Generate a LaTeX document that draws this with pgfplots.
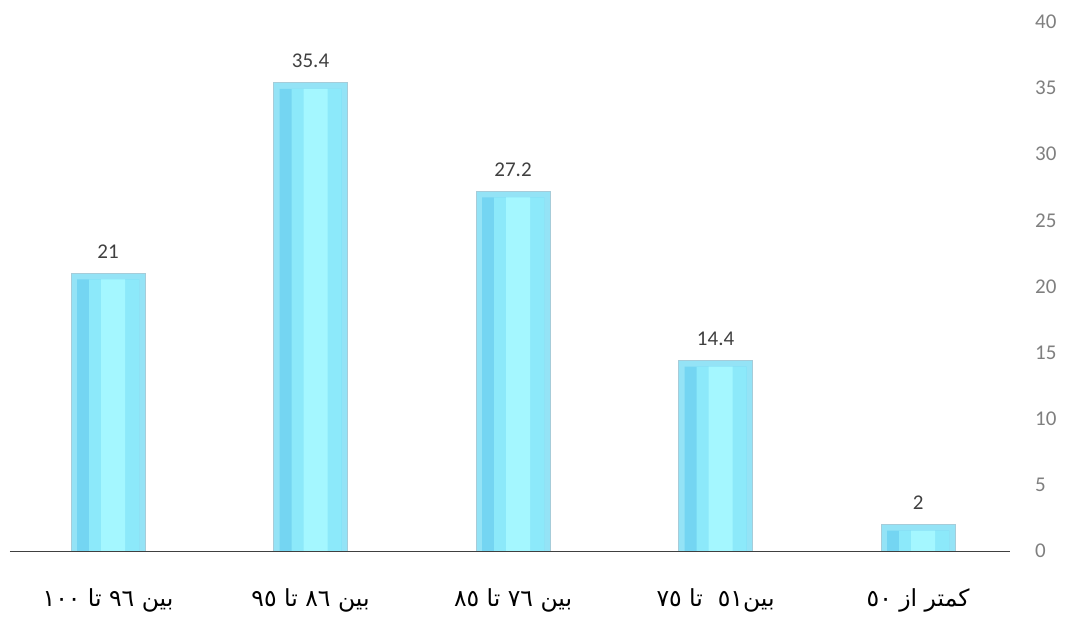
\documentclass[border=0pt]{standalone}
\usepackage{pgfplots}
\usepackage{pgfplotstable}
\pgfplotsset{compat=1.18}
\usepackage{fontspec}
\setmainfont{Carlito}
\newfontfamily\arabicfont[Script=Arabic]{DejaVu Sans}
\TeXXeTstate=1
\definecolor{tickgray}{HTML}{7F7F7F}
\definecolor{labelgray}{HTML}{404040}
\definecolor{axisgray}{HTML}{404040}
\definecolor{baredge}{HTML}{A6CCD9}
\definecolor{barframe}{HTML}{94E3F6}
\definecolor{barinner}{HTML}{74D5F2}
\definecolor{barmain}{HTML}{8CE9FA}
\definecolor{barlight}{HTML}{A4F7FF}
\pgfplotstableread{
x y
0 21
1 35.4
2 27.2
3 14.4
4 2
}\data
\begin{document}
\begin{tikzpicture}
\useasboundingbox (-10bp,-68bp) rectangle (1057bp,551bp);
\begin{axis}[
  at={(0,0)}, anchor=south west,
  scale only axis, width=1000bp, height=529bp,
  ymin=0, ymax=40, xmin=-0.484, xmax=4.454,
  axis x line*=bottom, axis y line*=right,
  y axis line style={draw=none},
  x axis line style={draw=axisgray, line width=0.8bp, -},
  ytick={0,5,...,40}, xtick={0,1,2,3,4},
  xticklabels={{\arabicfont\beginR بین ٩٦ تا ١٠٠\endR},
               {\arabicfont\beginR بین ٨٦ تا ٩٥\endR},
               {\arabicfont\beginR بین ٧٦ تا ٨٥\endR},
               {\arabicfont\beginR بین٥١\ \ تا ٧٥\endR},
               {\arabicfont\beginR کمتر از ٥٠\endR}},
  major tick length=0pt,
  tick style={draw=none},
  yticklabel style={anchor=west, inner sep=0pt, xshift=25bp, font=\fontsize{21bp}{24bp}\selectfont, text=tickgray},
  xticklabel style={anchor=center, yshift=-49bp, inner sep=0pt, font=\fontsize{23.5bp}{27bp}\selectfont, text=black},
  /pgf/number format/assume math mode=true,
  every node near coord/.append style={anchor=center, yshift=22bp, font=\fontsize{21bp}{24bp}\selectfont, text=labelgray},
  clip=true,
  axis on top,
]
\addplot[ybar, bar width=74bp, bar shift=0pt, fill=barframe, draw=baredge, line width=0.8bp,
  nodes near coords] table[x=x, y=y] {\data};
\addplot[ybar, bar width=62bp, bar shift=0pt, fill=barinner, draw=none, yshift=-6bp]
  table[x=x, y=y] {\data};
\addplot[ybar, bar width=50bp, bar shift=6bp, fill=barmain, draw=none, yshift=-6bp]
  table[x=x, y=y] {\data};
\addplot[ybar, bar width=24bp, bar shift=5bp, fill=barlight, draw=none, yshift=-6bp]
  table[x=x, y=y] {\data};
\end{axis}
\end{tikzpicture}
\end{document}
